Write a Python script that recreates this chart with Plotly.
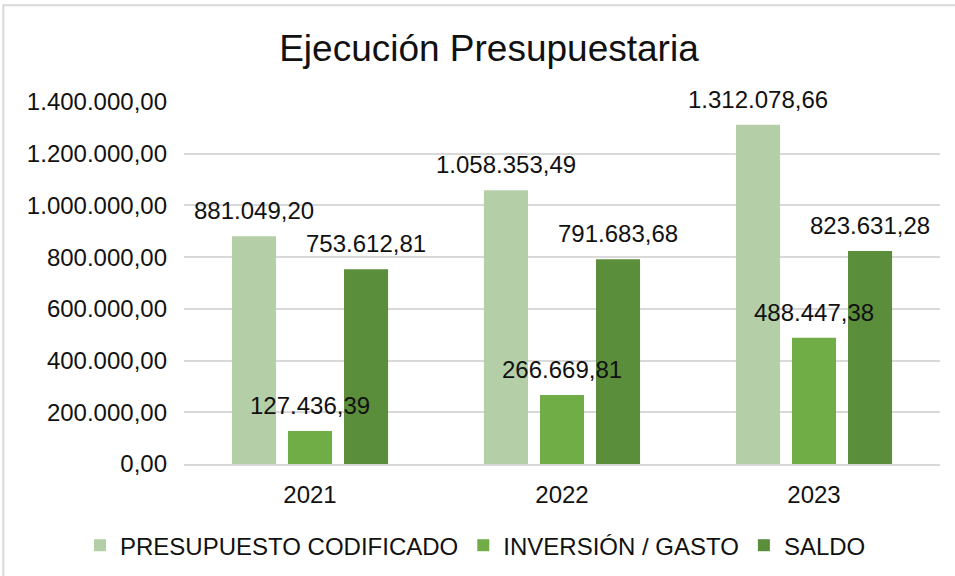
import plotly.graph_objects as go

categories = ["2021", "2022", "2023"]
series_names = ["PRESUPUESTO CODIFICADO", "INVERSIÓN / GASTO", "SALDO"]
presupuesto = [881049.20, 1058353.49, 1312078.66]
inversion = [127436.39, 266669.81, 488447.38]
saldo = [753612.81, 791683.68, 823631.28]
tick_vals = [0, 200000, 400000, 600000, 800000, 1000000, 1200000, 1400000]
tick_text = ["0,00", "200.000,00", "400.000,00", "600.000,00", "800.000,00",
             "1.000.000,00", "1.200.000,00", "1.400.000,00"]
colors = ["#b4cfa7", "#70ad47", "#5b8e3b"]


def fmt(v):
    s = f"{v:,.2f}"
    return s.replace(",", "X").replace(".", ",").replace("X", ".")


FONT = "Liberation Sans, Arial, sans-serif"
TXT = "#111111"
FS = 24
BARGAP = 0.333
series = [presupuesto, inversion, saldo]

fig = go.Figure()
for name, vals, col in zip(series_names, series, colors):
    fig.add_trace(go.Bar(x=categories, y=vals, name=name, marker_color=col,
                         marker_line_width=0, hoverinfo="skip"))

# data labels via annotations placed through the axis scales
n = len(series)
slot = (1 - BARGAP) / n
for k, vals in enumerate(series):
    for i, v in enumerate(vals):
        fig.add_annotation(x=i + (k - (n - 1) / 2) * slot, y=v, xref="x", yref="y",
                           text=fmt(v), showarrow=False, yanchor="bottom",
                           yshift=10, font=dict(family=FONT, size=FS, color=TXT))

fig.update_layout(
    width=955, height=576,
    paper_bgcolor="white", plot_bgcolor="white",
    margin=dict(l=184, r=15, t=102, b=112, autoexpand=False),
    barmode="group", bargap=BARGAP, bargroupgap=0.214,
    title=dict(text="Ejecución Presupuestaria", x=0.512, xanchor="center",
               y=1 - 48 / 576, yanchor="middle", xref="container", yref="container",
               font=dict(family=FONT, size=37, color=TXT)),
    font=dict(family=FONT, size=FS, color=TXT),
    showlegend=True,
    legend=dict(orientation="h", xref="paper", yref="paper",
                x=(80 - 184) / 756, xanchor="left", y=-(545 - 463.5) / 361.5,
                yanchor="middle",
                font=dict(family=FONT, size=FS, color=TXT), itemwidth=30,
                itemclick=False, itemdoubleclick=False),
    shapes=[dict(type="rect", xref="paper", yref="paper",
                 x0=-0.239, x1=1.2, y0=-0.6, y1=1.267,
                 line=dict(color="#d9d9d9", width=2), layer="below")],
)
fig.update_xaxes(showgrid=False, showline=True, linecolor="#d9d9d9", linewidth=2,
                 ticks="", tickfont=dict(family=FONT, size=FS, color=TXT),
                 ticklabelstandoff=8, automargin=False)
fig.update_yaxes(range=[0, 1400000], tickvals=tick_vals, ticktext=tick_text,
                 showgrid=True, gridcolor="#d9d9d9", gridwidth=2,
                 zeroline=False, showline=False, ticks="",
                 tickfont=dict(family=FONT, size=FS, color=TXT),
                 ticklabelstandoff=16, automargin=False)

fig.write_html("out.html", config={"displayModeBar": False},
               post_script="document.body.style.margin='0';document.body.style.overflow='hidden';")
